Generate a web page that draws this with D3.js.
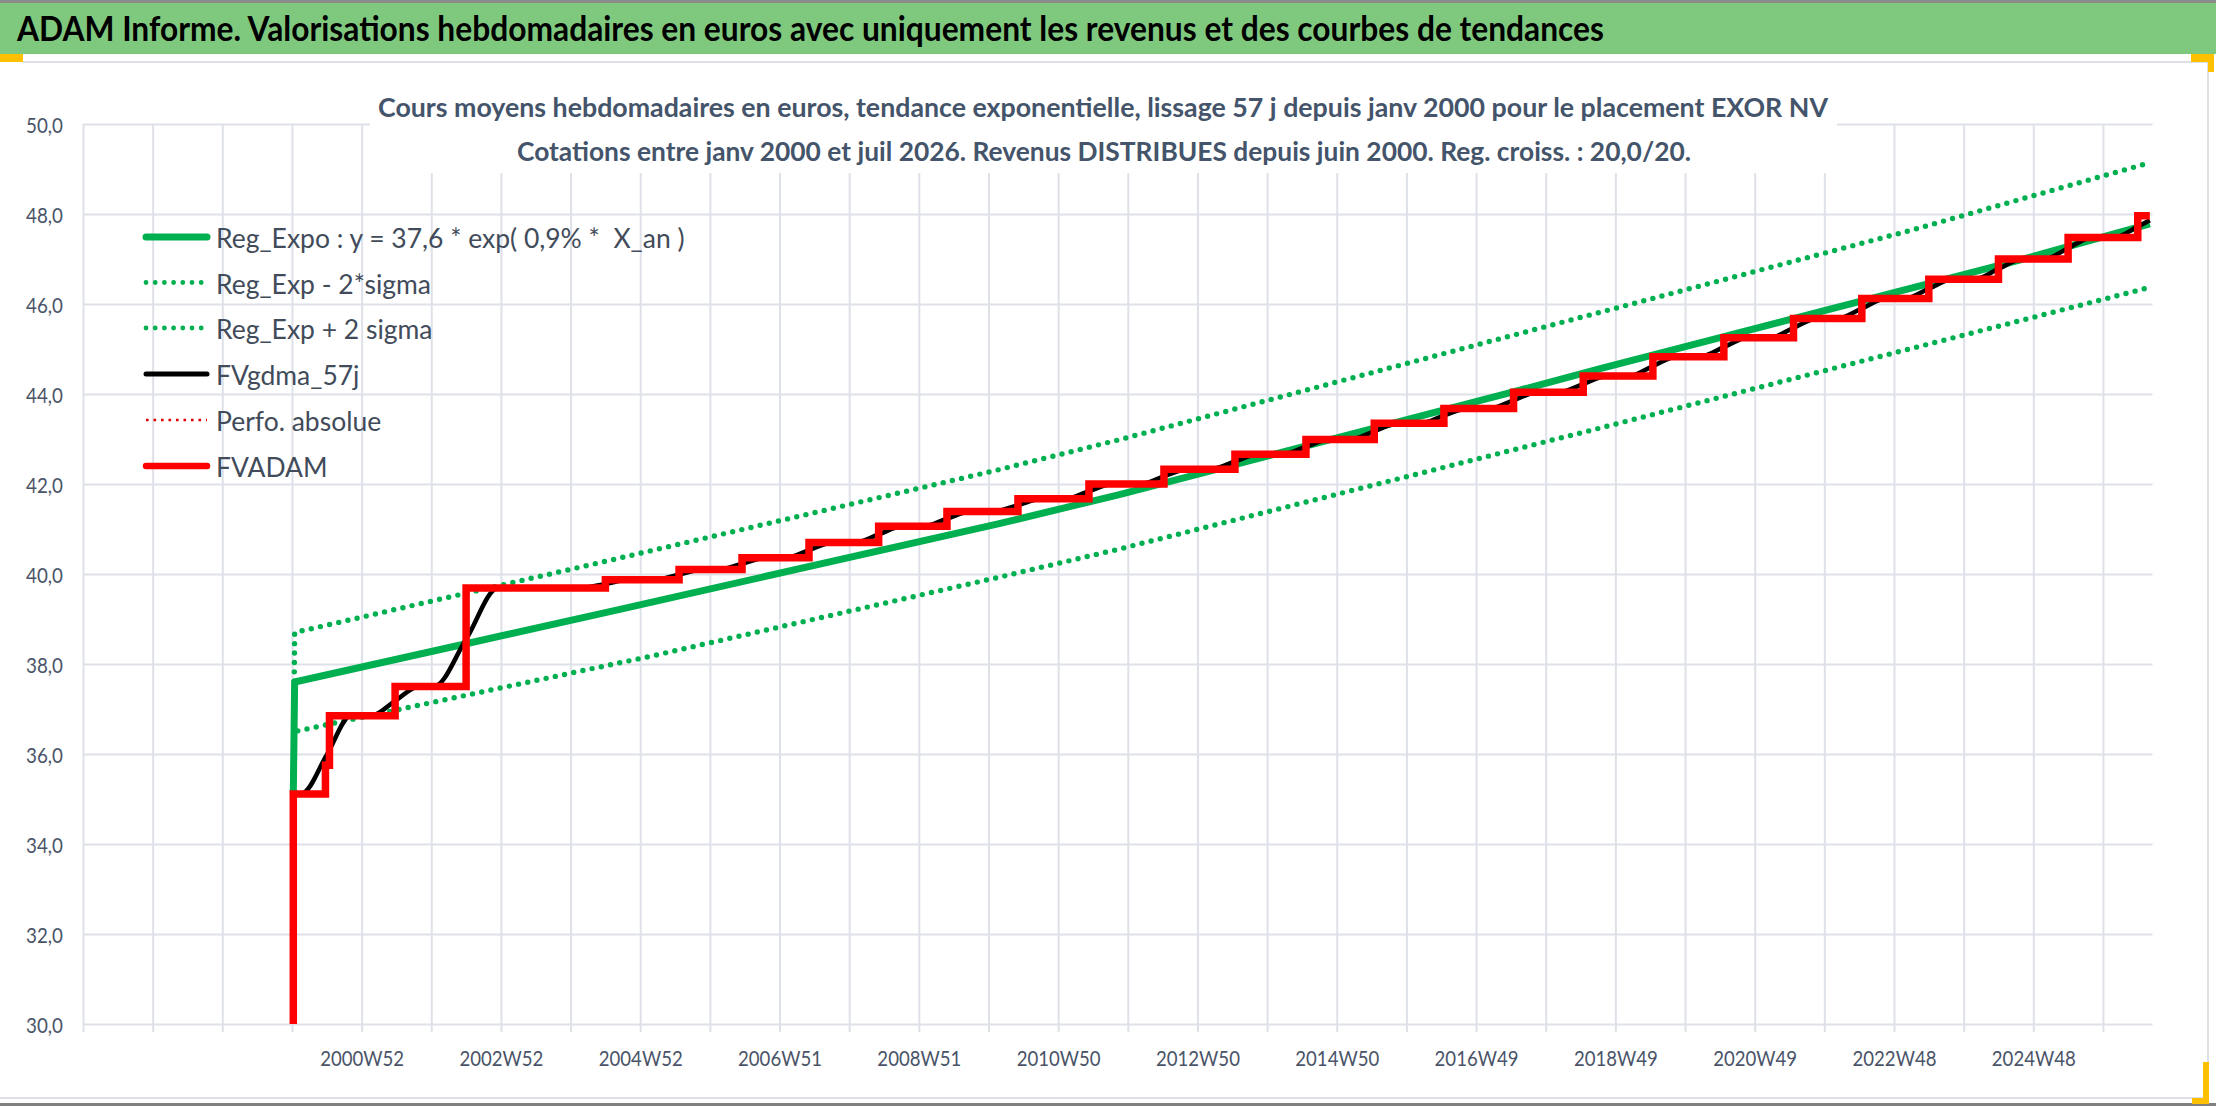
<!DOCTYPE html>
<html>
<head>
<meta charset="utf-8">
<script src="https://cdn.jsdelivr.net/npm/d3@7"></script>
<style>
body{margin:0;background:#fff;}
svg text{font-family:Lato,"Open Sans",sans-serif;white-space:pre;}
</style>
</head>
<body>
<svg id="chart" width="2216" height="1106"></svg>
<script>
// weekly category axis : index 0 = first week shown, 1545 weeks in all
var weekCount = 1545;
var gridWeeks = [0,52,104,156,208,260,312,364,416,468,520,572,624,676,728,780,832,884,936,988,1040,1092,1144,1196,1248,1300,1352,1404,1456,1508];
var tickWeeks = [208,312,416,520,624,728,832,936,1040,1144,1248,1352,1456];
var tickLabels = ["2000W52","2002W52","2004W52","2006W51","2008W51","2010W50","2012W50","2014W50","2016W49","2018W49","2020W49","2022W48","2024W48"];
var yTicks = [30,32,34,36,38,40,42,44,46,48,50];

// FVADAM (steps, value held until next week listed)
var fvadamWeeks = [157,157,181,184,233,286,390,445,492,542,594,645,698,751,807,860,913,964,1016,1068,1120,1172,1225,1277,1328,1378,1430,1482,1534,1543];
var fvadamValues = [30,35.11,35.75,36.85,37.50,39.69,39.87,40.10,40.36,40.70,41.06,41.39,41.67,42.00,42.33,42.66,42.99,43.35,43.68,44.04,44.40,44.83,45.25,45.68,46.12,46.55,47.00,47.48,47.96,47.96];

// FVgdma_57j (smoothed)
var gdmaWeeks = [157,164,182,200,215,233,251,262,286,310,372,390,408,427,445,463,474,492,510,524,542,560,576,594,612,627,645,663,680,698,716,733,751,769,789,807,825,842,860,878,895,913,931,946,964,982,998,1016,1034,1050,1068,1086,1102,1120,1138,1154,1172,1190,1207,1225,1243,1259,1277,1295,1310,1328,1346,1360,1378,1396,1412,1430,1448,1464,1482,1500,1516,1534,1543];
var gdmaValues = [35.11,35.13,35.98,36.85,36.85,37.18,37.50,37.50,38.55,39.69,39.69,39.78,39.87,39.87,39.99,40.10,40.10,40.23,40.36,40.36,40.53,40.70,40.70,40.88,41.06,41.06,41.23,41.39,41.39,41.53,41.67,41.67,41.84,42.00,42.00,42.17,42.33,42.33,42.50,42.66,42.66,42.83,42.99,42.99,43.17,43.35,43.35,43.52,43.68,43.68,43.86,44.04,44.04,44.22,44.40,44.40,44.62,44.83,44.83,45.04,45.25,45.25,45.47,45.68,45.68,45.90,46.12,46.12,46.34,46.55,46.55,46.78,47.00,47.00,47.24,47.48,47.48,47.72,47.86];

// Reg_Expo and its bands
var regWeeks = [157,158,286,400,684,773,1072,1132,1445,1543];
var regValues = [35.11,37.60,38.45,39.21,41.12,41.76,44.08,44.56,46.97,47.78];
var regHiWeeks = [157,158,400,684,773,1072,1365,1543];
var regHiValues = [35.11,38.70,40.35,42.32,42.98,45.34,47.64,49.14];
var regLoWeeks = [157,158,425,684,773,1072,1132,1445,1543];
var regLoValues = [35.11,36.50,38.18,39.93,40.55,42.79,43.24,45.62,46.37];

var legendLabels = ["Reg_Expo : y = 37,6 * exp( 0,9% *  X_an )","Reg_Exp - 2*sigma","Reg_Exp + 2 sigma","FVgdma_57j","Perfo. absolue","FVADAM"];

var titleText = "ADAM Informe. Valorisations hebdomadaires en euros avec uniquement les revenus et des courbes de tendances";
var subTitle1 = "Cours moyens hebdomadaires en euros, tendance exponentielle, lissage 57 j depuis janv 2000 pour le placement EXOR NV";
var subTitle2 = "Cotations entre janv 2000 et juil 2026. Revenus DISTRIBUES depuis juin 2000. Reg. croiss. : 20,0/20.";

var svg = d3.select("#chart");
var plotL = 83, plotR = 2152.5, plotT = 124, plotB = 1024;
var x = d3.scaleLinear().domain([0, weekCount]).range([plotL, plotR]);
var y = d3.scaleLinear().domain([30, 50]).range([plotB, plotT]);
var gridColor = "#dee1e8";
var textColor = "#4a5468";

function pairs(ws, vs){ return ws.map(function(w,i){ return [w, vs[i]]; }); }

// frame
svg.append("rect").attr("width",2216).attr("height",1106).attr("fill","#fff");
svg.append("rect").attr("x",0).attr("y",0).attr("width",2216).attr("height",3).attr("fill","#8c8c8c");
svg.append("rect").attr("x",0).attr("y",3).attr("width",2216).attr("height",51).attr("fill","#7fc97f");
svg.append("rect").attr("x",23).attr("y",61).attr("width",2186).attr("height",2).attr("fill","#dcdfe4");
svg.append("rect").attr("x",2207).attr("y",62).attr("width",2).attr("height",1037).attr("fill","#dcdfe4");
svg.append("rect").attr("x",0).attr("y",1097).attr("width",2209).attr("height",2).attr("fill","#dcdfe4");
svg.append("rect").attr("x",0).attr("y",1103).attr("width",2216).attr("height",3).attr("fill","#808080");
svg.append("rect").attr("x",0).attr("y",54).attr("width",23).attr("height",8).attr("fill","#ffc000");
svg.append("rect").attr("x",2191).attr("y",54).attr("width",23).attr("height",8).attr("fill","#ffc000");
svg.append("rect").attr("x",2208).attr("y",54).attr("width",6).attr("height",18).attr("fill","#ffc000");
svg.append("rect").attr("x",2203).attr("y",1062).attr("width",6).attr("height",42).attr("fill","#ffc000");
svg.append("rect").attr("x",2192).attr("y",1098).attr("width",17).attr("height",6).attr("fill","#ffc000");

svg.append("text").attr("x",17).attr("y",41).text(titleText)
	.attr("font-size",35).attr("font-weight",700).attr("fill","#000")
	.attr("textLength",1587).attr("lengthAdjust","spacingAndGlyphs");

// gridlines through axes
var yGrid = svg.append("g").attr("transform","translate("+plotL+",0)")
	.call(d3.axisLeft(y).tickValues(yTicks).tickSize(-(plotR-plotL)).tickFormat(""));
yGrid.select(".domain").remove();
yGrid.selectAll("line").attr("stroke",gridColor).attr("stroke-width",2);

var xGrid = svg.append("g").attr("transform","translate(0,"+(plotB+8)+")")
	.call(d3.axisBottom(x).tickValues(gridWeeks).tickSize(-(plotB+8-plotT)).tickFormat(""));
xGrid.select(".domain").remove();
xGrid.selectAll("line").attr("stroke",gridColor).attr("stroke-width",2);

// title box hides the grid behind it
svg.append("rect").attr("x",370).attr("y",64).attr("width",1467).attr("height",109).attr("fill","#fff");
svg.append("text").attr("x",378).attr("y",116.5).text(subTitle1)
	.attr("font-size",27.5).attr("font-weight",700).attr("fill","#44546a")
	.attr("textLength",1450).attr("lengthAdjust","spacingAndGlyphs");
svg.append("text").attr("x",517).attr("y",160.5).text(subTitle2)
	.attr("font-size",27.5).attr("font-weight",700).attr("fill","#44546a")
	.attr("textLength",1174).attr("lengthAdjust","spacingAndGlyphs");

// tick labels
var xAxis = svg.append("g").attr("transform","translate(0,"+plotB+")")
	.call(d3.axisBottom(x).tickValues(tickWeeks).tickSize(0).tickFormat(function(d,i){ return tickLabels[i]; }));
xAxis.select(".domain").remove();
var xt = xAxis.selectAll("text").attr("font-size",22).attr("fill",textColor).attr("font-family",null)
	.attr("y",0).attr("dy",null).attr("dominant-baseline","central");
var fx = 84 / xt.filter(function(d,i){ return i==10; }).node().getComputedTextLength();
xt.attr("transform","translate(0,33) scale("+fx+",1)");

var yAxis = svg.append("g").attr("transform","translate("+plotL+",0)")
	.call(d3.axisLeft(y).tickValues(yTicks).tickSize(0).tickFormat(function(d){ return d.toFixed(1).replace(".",","); }));
yAxis.select(".domain").remove();
var yt = yAxis.selectAll("text").attr("font-size",22).attr("fill",textColor).attr("font-family",null)
	.attr("x",0).attr("dy",null).attr("dominant-baseline","central");
var fy = 37 / yt.filter(function(d){ return d==48; }).node().getComputedTextLength();
yt.attr("transform","translate(-20,0) scale("+fy+",1)");

// series
var straight = d3.line().x(function(d){ return x(d[0]); }).y(function(d){ return y(d[1]); });
var smooth = d3.line().x(function(d){ return x(d[0]); }).y(function(d){ return y(d[1]); }).curve(d3.curveMonotoneX);
var steps = d3.line().x(function(d){ return x(d[0]); }).y(function(d){ return y(d[1]); }).curve(d3.curveStepAfter);

svg.append("path").attr("d",straight(pairs(regWeeks,regValues)))
	.attr("fill","none").attr("stroke","#00b050").attr("stroke-width",7).attr("stroke-linejoin","round");
svg.append("path").attr("d",straight(pairs(regLoWeeks,regLoValues)))
	.attr("fill","none").attr("stroke","#00b050").attr("stroke-width",5.4)
	.attr("stroke-linecap","round").attr("stroke-dasharray","0 9.4");
svg.append("path").attr("d",straight(pairs(regHiWeeks,regHiValues)))
	.attr("fill","none").attr("stroke","#00b050").attr("stroke-width",5.4)
	.attr("stroke-linecap","round").attr("stroke-dasharray","0 9.4");
svg.append("path").attr("d",smooth(pairs(gdmaWeeks,gdmaValues)))
	.attr("fill","none").attr("stroke","#000").attr("stroke-width",4.5);
svg.append("path").attr("d",steps(pairs(fvadamWeeks,fvadamValues)))
	.attr("fill","none").attr("stroke","#ff0000").attr("stroke-width",7.5).attr("stroke-linejoin","miter");

// legend
var legendY = [237,282.5,328,374,420,466];
var legendStyle = [
	{c:"#00b050",w:7,dash:null,cap:"round"},
	{c:"#00b050",w:4.8,dash:"0 9.2",cap:"round"},
	{c:"#00b050",w:4.8,dash:"0 9.2",cap:"round"},
	{c:"#000",w:5,dash:null,cap:"round"},
	{c:"#e00000",w:2.6,dash:"2.6 4.9",cap:"butt"},
	{c:"#ff0000",w:6.5,dash:null,cap:"round"}
];
var leg = svg.append("g");
legendLabels.forEach(function(lab,i){
	var s = legendStyle[i];
	leg.append("line").attr("x1",146).attr("x2",207).attr("y1",legendY[i]).attr("y2",legendY[i])
		.attr("stroke",s.c).attr("stroke-width",s.w).attr("stroke-dasharray",s.dash).attr("stroke-linecap",s.cap);
	leg.append("text").attr("class","legtext").attr("dominant-baseline","central")
		.attr("font-size",27).attr("fill","#414b5a").text(lab);
});
var lt = leg.selectAll(".legtext");
var fl = 215 / lt.filter(function(d,i){ return i==1; }).node().getComputedTextLength();
lt.attr("transform",function(d,i){ return "translate(216,"+(legendY[i]+1)+") scale("+fl+",1)"; });
</script>
</body>
</html>
